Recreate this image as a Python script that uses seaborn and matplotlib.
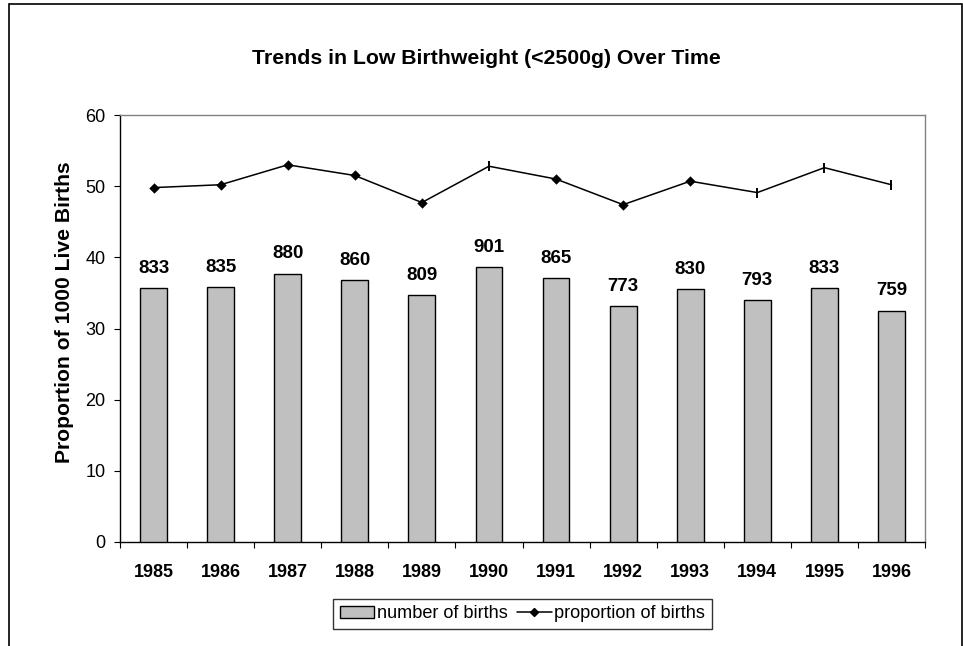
import numpy as np
import pandas as pd
import matplotlib
matplotlib.use("Agg")
import matplotlib.pyplot as plt
import seaborn as sns
from matplotlib.patches import Patch
from matplotlib.lines import Line2D

# data
years = ['1985', '1986', '1987', '1988', '1989', '1990',
         '1991', '1992', '1993', '1994', '1995', '1996']
births = [833, 835, 880, 860, 809, 901, 865, 773, 830, 793, 833, 759]
proportion = [49.8, 50.2, 53.0, 51.5, 47.7, 52.8, 51.0, 47.4, 50.7, 49.1, 52.6, 50.2]

# points that show up as a small vertical tick instead of a diamond
tick_years = ['1990', '1994', '1995', '1996']

df = pd.DataFrame({'year': years, 'births': births, 'proportion': proportion})
df_diamond = df[~df['year'].isin(tick_years)]
df_tick = df[df['year'].isin(tick_years)]

sns.set_style("white")
plt.rcParams['font.family'] = ['Liberation Sans', 'DejaVu Sans']
plt.rcParams['text.color'] = 'black'
plt.rcParams['xtick.color'] = 'black'
plt.rcParams['ytick.color'] = 'black'
plt.rcParams['axes.labelcolor'] = 'black'

W, H = 963, 646
fig = plt.figure(figsize=(W / 100, H / 100), dpi=100)

# outer frame around the chart area (open at the bottom like the original)
fig.add_artist(plt.Rectangle((9 / W, -0.05), 953 / W, 1.05 - 4 / H,
                             transform=fig.transFigure, fill=False,
                             edgecolor='black', linewidth=1.2))

ax = fig.add_axes([120 / W, 1 - 542 / H, 805 / W, 427 / H])
ax2 = ax.twinx()

# line: proportion of births (main axis, 0-60)
sns.lineplot(data=df, x='year', y='proportion', ax=ax, color='black',
             linewidth=1.1, sort=False, legend=False)
sns.scatterplot(data=df_diamond, x='year', y='proportion', ax=ax, marker='D',
                color='black', s=28, edgecolor='black', linewidth=0, zorder=5,
                legend=False)
sns.scatterplot(data=df_tick, x='year', y='proportion', ax=ax, marker='|',
                color='black', s=45, linewidth=1.4, zorder=5, legend=False)

# bars: number of births (hidden secondary axis, 0-1400)
sns.barplot(data=df, x='year', y='births', ax=ax2, color='#C0C0C0',
            saturation=1, width=0.4, edgecolor='black', linewidth=1.0)
ax2.set_ylim(0, 1400)
ax2.yaxis.set_visible(False)
for s in ax2.spines.values():
    s.set_visible(False)

for bar, val in zip(ax2.patches, births):
    ax2.annotate(str(val), (bar.get_x() + bar.get_width() / 2, bar.get_height()),
                 xytext=(0, 8), textcoords='offset points', ha='center',
                 va='bottom', fontsize=13.5, fontweight='bold', color='black')

ax.set_ylim(0, 60)
ax.set_yticks(range(0, 61, 10))
ax.set_xlim(-0.5, len(years) - 0.5)
ax.set_xticks(range(len(years)))
ax.set_xticklabels(years, fontweight='bold', fontsize=13)
ax.set_xticks(np.arange(-0.5, len(years), 1), minor=True)
ax.tick_params(axis='x', which='major', length=0, pad=16)
ax.tick_params(axis='x', which='minor', length=4, width=0.8, direction='out',
               color='black', bottom=True)
ax.tick_params(axis='y', length=4.5, width=0.8, direction='out', color='black',
               left=True, labelsize=13, pad=6)
ax.set_xlabel('')
ax.set_ylabel('')

ax.spines['left'].set_color('black')
ax.spines['bottom'].set_color('black')
ax.spines['top'].set_color('#808080')
ax.spines['right'].set_color('#808080')
for s in ax.spines.values():
    s.set_linewidth(1.0)

fig.text(486 / W, 1 - 58 / H, 'Trends in Low Birthweight (<2500g) Over Time',
         ha='center', va='center', fontsize=15.3, fontweight='bold')
fig.text(65 / W, 1 - 312 / H, 'Proportion of 1000 Live Births', rotation=90,
         ha='center', va='center', fontsize=15.2, fontweight='bold')

# legend
handles = [Patch(facecolor='#C0C0C0', edgecolor='black', linewidth=1.0),
           Line2D([0], [0], color='black', linewidth=1.1, marker='D', markersize=4)]
leg = fig.legend(handles, ['number of births', 'proportion of births'],
                 loc='center', bbox_to_anchor=(522.5 / W, 1 - 614 / H), ncol=2,
                 fontsize=13.1, frameon=True, fancybox=False, edgecolor='black',
                 handlelength=1.9, handleheight=0.6, handletextpad=0.15,
                 columnspacing=0.5, borderpad=0.35, borderaxespad=0)
leg.get_frame().set_linewidth(1.0)

fig.savefig('out.png', dpi=100, facecolor='white')
